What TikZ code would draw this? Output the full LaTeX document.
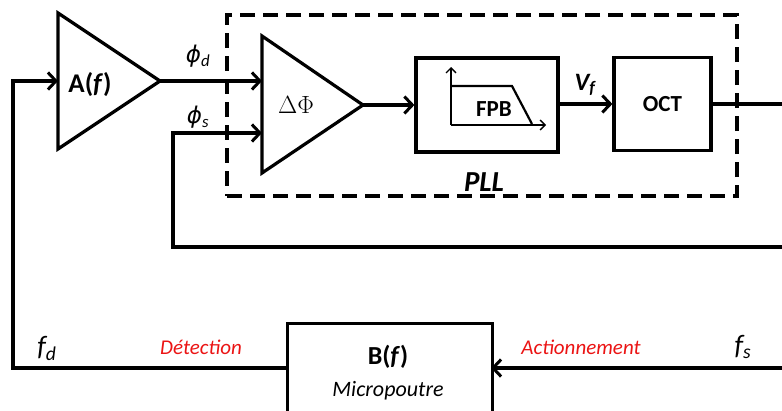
\documentclass[tikz,border=0pt]{standalone}
\usepackage{fontspec}
\setmainfont{Carlito}
\newfontfamily\dvsans{DejaVu Sans}
\usetikzlibrary{arrows.meta}
\definecolor{lblred}{RGB}{235,20,20}
\tikzset{
  wire/.style={line width=3.2pt},
  arr/.style={wire,-{Straight Barb[length=8pt,width=17pt,line width=3pt]}},
  blockbox/.style={draw,line width=3.2pt,inner sep=0pt},
  lbl/.style={inner sep=0pt,anchor=center},
  redlbl/.style={lbl,text=lblred,font=\fontsize{21}{24}\selectfont\itshape},
}
\newcommand{\phisym}{{\dvsans\itshape\fontsize{23}{26}\selectfont ϕ}}
\begin{document}
\begin{tikzpicture}[x=1pt,y=-1pt]
\useasboundingbox (0,0) rectangle (782,410);
% A(f) triangle
\coordinate (A1) at (58,13);
\coordinate (A2) at (58,149);
\coordinate (Aout) at (160,81);
\coordinate (Ain) at (58,81);
\draw[wire,line join=miter] (A1) -- (A2) -- (Aout) -- cycle;
\node[lbl,font=\fontsize{27}{30}\selectfont\bfseries] (Alab) at (90,85) {A(\textit{f})};
% Delta Phi triangle
\coordinate (D1) at (262,36);
\coordinate (D2) at (262,173);
\coordinate (Dout) at (363,105);
\coordinate (Din1) at (262,81);
\coordinate (Din2) at (262,133);
\draw[wire,line join=miter] (D1) -- (D2) -- (Dout) -- cycle;
\node[lbl,font=\fontsize{29}{32}\selectfont] (Dlab) at (296,105) {$\Delta\Phi$};
% PLL dashed box
\node[draw,line width=3.4pt,dash pattern=on 15pt off 8pt,minimum width=510pt,minimum height=181pt,inner sep=0pt] (pll) at (482,105.5) {};
\node[lbl,font=\fontsize{29}{32}\selectfont\bfseries\itshape] (plllab) at (484,182) {PLL};
% FPB box
\node[blockbox,minimum width=142pt,minimum height=94pt] (fpb) at (487,105) {};
\node[lbl,font=\fontsize{23}{26}\selectfont\bfseries] (fpblab) at (494,109) {FPB};
\coordinate (ax0) at (451,125);
\coordinate (axy) at (451,67);
\coordinate (axx) at (546,125);
\draw[line width=1.3pt,-{Straight Barb[length=5pt,width=10pt,line width=1.3pt]}] (ax0) -- (axy);
\draw[line width=1.3pt,-{Straight Barb[length=5pt,width=10pt,line width=1.3pt]}] (ax0) -- (axx);
\coordinate (c1) at (452,86);
\coordinate (c2) at (512,86);
\coordinate (c3) at (532,124);
\draw[line width=2.2pt] (c1) -- (c2) -- (c3);
% OCT box
\node[blockbox,minimum width=97pt,minimum height=93pt,font=\fontsize{23}{26}\selectfont\bfseries] (oct) at (662.5,104) {OCT};
% B(f) box
\node[blockbox,minimum width=205pt,minimum height=100pt,anchor=north west] (bbox) at (286,322) {};
\node[lbl,font=\fontsize{26}{30}\selectfont\bfseries] (blab) at (388,357) {B(\textit{f})};
\node[lbl,font=\fontsize{22}{26}\selectfont\itshape] (bsub) at (388,391) {Micropoutre};
% connectors
\coordinate (inA) at (13,81);
\coordinate (fdcorner) at (13,368);
\coordinate (bleft) at (286,368);
\coordinate (bright) at (491,368);
\coordinate (fsend) at (790,368);
\coordinate (octend) at (790,104);
\coordinate (fb1) at (790,247);
\coordinate (fb2) at (173,247);
\coordinate (fb3) at (173,133);
\draw[arr] (bleft) -- (fdcorner) -- (inA) -- (Ain);
\draw[arr] (Aout) -- (Din1);
\draw[arr] (fb1) -- (fb2) -- (fb3) -- (Din2);
\draw[arr] (Dout) -- (fpb.west |- Dout);
\draw[arr] (fpb.east |- oct.west) -- (oct.west);
\draw[wire] (oct.east) -- (octend);
\draw[arr] (fsend) -- (bright);
% labels
\node[lbl,font=\fontsize{24}{28}\selectfont\itshape] (phid) at (198,56) {\phisym\textsubscript{d}};
\node[lbl,font=\fontsize{24}{28}\selectfont\itshape] (phis) at (198,117) {\phisym\textsubscript{s}};
\node[lbl,font=\fontsize{25}{28}\selectfont\bfseries\itshape] (vf) at (585,85) {V\textsubscript{f}};
\node[lbl,font=\fontsize{28}{30}\selectfont\itshape] (fd) at (47,348) {f\textsubscript{d}};
\node[lbl,font=\fontsize{28}{30}\selectfont\itshape] (fs) at (743,347) {f\textsubscript{s}};
\node[redlbl] (det) at (201,347) {Détection};
\node[redlbl] (act) at (581,347) {Actionnement};
\end{tikzpicture}
\end{document}
